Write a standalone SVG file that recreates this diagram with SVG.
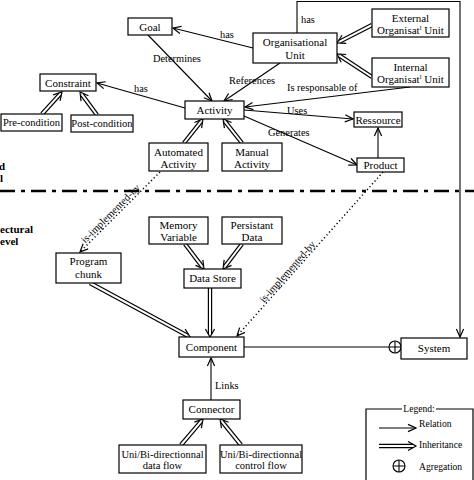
<svg xmlns="http://www.w3.org/2000/svg" width="474" height="480" viewBox="0 0 474 480">
<defs>
<style>
text{font-family:"Liberation Serif","Times New Roman",serif;fill:#000}
.n rect{fill:#fff;stroke:#000;stroke-width:1.2}
.n text{font-size:11px;text-anchor:middle}
.sm text{font-size:10.5px}
.rel{fill:none;stroke:#000;stroke-width:1.1}
.dot{fill:none;stroke:#000;stroke-width:1.5;stroke-dasharray:1.2 2.6}
.io{fill:none;stroke:#000;stroke-width:4.4}
.ii{fill:none;stroke:#fff;stroke-width:2}
.lbl{font-size:10.4px}
.side{font-size:11px;font-weight:bold}
.leg{font-size:9.6px}
</style>
<marker id="ah" markerUnits="userSpaceOnUse" markerWidth="12" markerHeight="12" viewBox="-10 -6 12 12" refX="0" refY="0" orient="auto" overflow="visible">
<path d="M-8,-3.6 L0,0 L-8,3.6" fill="none" stroke="#000" stroke-width="1.2"/>
</marker>
<marker id="inh" markerUnits="userSpaceOnUse" markerWidth="12" markerHeight="12" viewBox="-8 -6 12 12" refX="0" refY="0" orient="auto" overflow="visible">
<path d="M-5,-4.6 L3,0 L-5,4.6" fill="none" stroke="#000" stroke-width="1.2"/>
</marker>
</defs>
<rect x="0" y="0" width="474" height="480" fill="#fff"/>

<line x1="0" y1="191" x2="474" y2="191" stroke="#000" stroke-width="2.6" stroke-dasharray="15 6 4 6"/>
<text class="side" x="-1" y="170">d</text>
<text class="side" x="0" y="182">l</text>
<text class="side" x="0" y="233">ectural</text>
<text class="side" x="0" y="245">evel</text>

<g id="connectors">
<path class="rel" d="M253,48 L173,28" marker-end="url(#ah)"/>
<text class="lbl" x="220" y="38">has</text>
<path class="rel" d="M148,35 L212,101" marker-end="url(#ah)"/>
<text class="lbl" x="153" y="62">Determines</text>
<path class="rel" d="M280,63 L224,101" marker-end="url(#ah)"/>
<text class="lbl" x="229" y="84">References</text>
<path class="rel" d="M185,108 L97,83" marker-end="url(#ah)"/>
<text class="lbl" x="134" y="92">has</text>
<path class="rel" d="M410,87 L245,107" marker-end="url(#ah)"/>
<text class="lbl" x="287" y="91">Is responsable of</text>
<path class="rel" d="M244,110 L353,119" marker-end="url(#ah)"/>
<text class="lbl" x="287" y="114">Uses</text>
<path class="rel" d="M244,116 L357,165" marker-end="url(#ah)"/>
<text class="lbl" x="268" y="136">Generates</text>
<path class="rel" d="M378,158 L378,128" marker-end="url(#ah)"/>
<path class="rel" d="M297,33 L297,1.5 L460,1.5 L460,337" marker-end="url(#ah)"/>
<text class="lbl" x="301" y="23">has</text>
<path class="rel" d="M211,400 L211,358" marker-end="url(#ah)"/>
<text class="lbl" x="215" y="389">Links</text>
<path class="rel" d="M244,347 L389,347"/>
<circle cx="395" cy="347" r="6" fill="#fff" stroke="#000" stroke-width="1.1"/>
<path class="rel" d="M389,347 L401,347 M395,341 L395,353"/>

<path class="dot" d="M160,172 L80,252" marker-end="url(#ah)"/>
<text class="lbl" x="113" y="216" text-anchor="middle" transform="rotate(-45 113 216)">is-implemented-by</text>
<path class="dot" d="M383,172 L237,336" marker-end="url(#ah)"/>
<text class="lbl" x="290" y="274" text-anchor="middle" transform="rotate(-48.4 290 274)">is-implemented-by</text>

<path class="io" d="M42,114 L60,94.2" marker-end="url(#inh)"/><path class="ii" d="M42,114 L60,94.2"/>
<path class="io" d="M97,115 L81.8,94.4" marker-end="url(#inh)"/><path class="ii" d="M97,115 L81.8,94.4"/>
<path class="io" d="M184,143 L201.1,121.4" marker-end="url(#inh)"/><path class="ii" d="M184,143 L201.1,121.4"/>
<path class="io" d="M242,143 L224.9,121.4" marker-end="url(#inh)"/><path class="ii" d="M242,143 L224.9,121.4"/>
<path class="io" d="M372,25 L339.7,41.6" marker-end="url(#inh)"/><path class="ii" d="M372,25 L339.7,41.6"/>
<path class="io" d="M372,77 L339.5,55.6" marker-end="url(#inh)"/><path class="ii" d="M372,77 L339.5,55.6"/>
<path class="io" d="M185,244 L202.2,266.6" marker-end="url(#inh)"/><path class="ii" d="M185,244 L202.2,266.6"/>
<path class="io" d="M242,244 L224.8,266.6" marker-end="url(#inh)"/><path class="ii" d="M242,244 L224.8,266.6"/>
<path class="io" d="M210,288 L210,334" marker-end="url(#inh)"/><path class="ii" d="M210,288 L210,334"/>
<path class="io" d="M90,283 L187.4,335.6" marker-end="url(#inh)"/><path class="ii" d="M90,283 L187.4,335.6"/>
<path class="io" d="M181,445 L201.1,421.3" marker-end="url(#inh)"/><path class="ii" d="M181,445 L201.1,421.3"/>
<path class="io" d="M241,445 L221.9,421.3" marker-end="url(#inh)"/><path class="ii" d="M241,445 L221.9,421.3"/>
</g>

<g id="goal" class="n"><rect x="128" y="18" width="44" height="17"/><text x="150" y="30.5">Goal</text></g>
<g id="org-unit" class="n"><rect x="253" y="33" width="84" height="30"/><text x="295" y="45.5">Organisational</text><text x="295" y="59">Unit</text></g>
<g id="ext-org" class="n"><rect x="372" y="9" width="77" height="28"/><text x="410.5" y="22">External</text><text x="410.5" y="34">Organisat<tspan font-size="7" dy="-4">l</tspan><tspan dy="4"> Unit</tspan></text></g>
<g id="int-org" class="n"><rect x="372" y="58" width="77" height="29"/><text x="410.5" y="71">Internal</text><text x="410.5" y="83">Organisat<tspan font-size="7" dy="-4">l</tspan><tspan dy="4"> Unit</tspan></text></g>
<g id="constraint" class="n"><rect x="40" y="74" width="56" height="17"/><text x="68" y="86.5">Constraint</text></g>
<g id="pre-condition" class="n sm"><rect x="1" y="114" width="61" height="17"/><text x="31.5" y="126">Pre-condition</text></g>
<g id="post-condition" class="n sm"><rect x="71" y="115" width="62" height="17"/><text x="102" y="127">Post-condition</text></g>
<g id="activity" class="n"><rect x="185" y="101" width="59" height="18"/><text x="214.5" y="113.5">Activity</text></g>
<g id="automated-activity" class="n"><rect x="149" y="143" width="59" height="28"/><text x="178.5" y="156">Automated</text><text x="178.5" y="167.5">Activity</text></g>
<g id="manual-activity" class="n"><rect x="222" y="143" width="60" height="28"/><text x="252" y="156">Manual</text><text x="252" y="167.5">Activity</text></g>
<g id="ressource" class="n"><rect x="354" y="112" width="48" height="15"/><text x="378" y="124">Ressource</text></g>
<g id="product" class="n"><rect x="357" y="158" width="47" height="14"/><text x="380.5" y="169">Product</text></g>
<g id="memory-variable" class="n"><rect x="149" y="217" width="59" height="27"/><text x="178.5" y="229">Memory</text><text x="178.5" y="241">Variable</text></g>
<g id="persistant-data" class="n"><rect x="222" y="217" width="60" height="27"/><text x="252" y="229">Persistant</text><text x="252" y="241">Data</text></g>
<g id="data-store" class="n"><rect x="184" y="269" width="57" height="19"/><text x="212.5" y="282">Data Store</text></g>
<g id="program-chunk" class="n"><rect x="56" y="253" width="65" height="30"/><text x="88.5" y="265">Program</text><text x="88.5" y="278">chunk</text></g>
<g id="component" class="n"><rect x="179" y="337" width="65" height="20"/><text x="211.5" y="350.5">Component</text></g>
<g id="system" class="n"><rect x="401" y="338" width="66" height="21"/><text x="434" y="351.5">System</text></g>
<g id="connector" class="n"><rect x="183" y="400" width="57" height="19"/><text x="211.5" y="413">Connector</text></g>
<g id="data-flow" class="n sm"><rect x="119" y="445" width="87" height="28"/><text x="162.5" y="457.5">Uni/Bi-directionnal</text><text x="162.5" y="468.5">data flow</text></g>
<g id="control-flow" class="n sm"><rect x="220" y="445" width="82" height="28"/><text x="261" y="457.5">Uni/Bi-directionnal</text><text x="261" y="468.5">control  flow</text></g>

<g id="legend">
<path d="M402,409 L366,409 L366,490 M436,409 L473,409 L473,490" fill="none" stroke="#000" stroke-width="1.2"/>
<text class="leg" x="419" y="412" text-anchor="middle">Legend:</text>
<path class="rel" d="M379,428 L416,428" marker-end="url(#ah)"/>
<text class="leg" x="419" y="427">Relation</text>
<path class="io" d="M379,446 L413,446" marker-end="url(#inh)"/><path class="ii" d="M378,446 L413,446"/>
<text class="leg" x="419" y="448">Inheritance</text>
<circle cx="399" cy="466" r="6" fill="#fff" stroke="#000" stroke-width="1.1"/>
<path class="rel" d="M393,466 L405,466 M399,460 L399,472"/>
<text class="leg" x="419" y="470">Agregation</text>
</g>
</svg>
